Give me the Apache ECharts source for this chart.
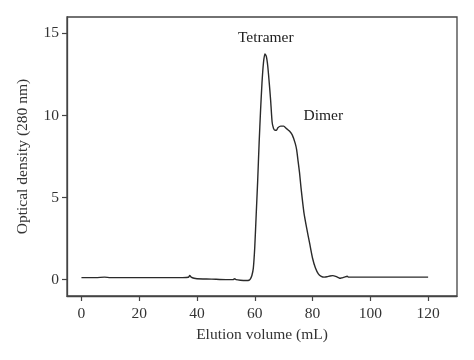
<!DOCTYPE html>
<html>
<head>
<meta charset="utf-8">
<script src="https://cdn.jsdelivr.net/npm/echarts@6/dist/echarts.min.js"></script>
<style>html,body{margin:0;padding:0;background:#fff;}#c{width:474px;height:360px;}</style>
</head>
<body>
<div id="c"></div>
<script>
const elutionVolume = [0,5,8,10,15,20,25,30,35,37,37.5,38,39,40,45,50,52.5,53,53.5,55,57,58,58.5,59,59.5,60,60.5,61,61.5,62,62.5,63,63.5,64,64.5,65,65.5,66,66.5,67,67.5,68,69,70,71,72,73,74,74.5,75,75.5,76,77,78,79,80,81,82,83,84,85,86,87,88,89,89.5,90,91,92,92.5,95,100,110,120];
const opticalDensity = [0.12,0.12,0.15,0.12,0.12,0.12,0.12,0.12,0.12,0.14,0.25,0.15,0.08,0.05,0.03,0.0,0.0,0.05,0.0,-0.04,-0.06,-0.04,0.05,0.25,0.7,2.0,4.0,6.0,8.3,10.3,12.0,13.2,13.75,13.6,13.0,12.0,10.9,9.6,9.2,9.1,9.1,9.25,9.35,9.35,9.2,9.05,8.8,8.3,7.9,7.2,6.5,5.6,4.1,3.1,2.2,1.3,0.7,0.35,0.2,0.15,0.17,0.22,0.24,0.2,0.12,0.08,0.1,0.15,0.2,0.15,0.15,0.15,0.15,0.15];
const xTicks = [0,20,40,60,80,100,120];
const yTicks = [0,5,10,15];
const annotationLabels = ['Tetramer','Dimer'];
const annotationX = [63.8, 83.7];
const annotationY = [14.7, 10.0];

const font = 'Liberation Serif';
const chart = echarts.init(document.getElementById('c'));
chart.setOption({
  animation: false,
  backgroundColor: '#fff',
  grid: {left: 67, right: 17, top: 17, bottom: 64, show: true, borderColor: '#444', borderWidth: 1.3, containLabel: false},
  xAxis: {
    type: 'value', min: -5, max: 130,
    name: 'Elution volume (mL)', nameLocation: 'middle', nameGap: 30,
    nameTextStyle: {fontFamily: font, fontSize: 15.5, color: '#333'},
    axisLine: {show: true, onZero: false, lineStyle: {color: '#444', width: 1.3}},
    axisTick: {show: true, inside: false, length: 5, customValues: xTicks, lineStyle: {color: '#444', width: 1.2}},
    axisLabel: {customValues: xTicks, margin: 10, fontFamily: font, fontSize: 15.5, color: '#333'},
    splitLine: {show: false}
  },
  yAxis: {
    type: 'value', min: -1, max: 16,
    name: 'Optical density (280 nm)', nameLocation: 'middle', nameGap: 36,
    nameTextStyle: {fontFamily: font, fontSize: 15.5, color: '#333'},
    axisLine: {show: true, onZero: false, lineStyle: {color: '#444', width: 1.3}},
    axisTick: {show: true, inside: false, length: 5, customValues: yTicks, lineStyle: {color: '#444', width: 1.2}},
    axisLabel: {customValues: yTicks, margin: 8, fontFamily: font, fontSize: 15.5, color: '#333'},
    splitLine: {show: false}
  },
  series: [{
    type: 'line',
    data: elutionVolume.map((x, i) => [x, opticalDensity[i]]),
    showSymbol: false,
    smooth: 0.2,
    lineStyle: {color: '#2a2a2a', width: 1.4},
    markPoint: {
      symbol: 'circle', symbolSize: 0,
      label: {show: true, position: 'inside', formatter: p => p.name, fontFamily: font, fontSize: 15.5, color: '#222'},
      data: annotationLabels.map((n, i) => ({name: n, coord: [annotationX[i], annotationY[i]]}))
    }
  }]
});
</script>
</body>
</html>
